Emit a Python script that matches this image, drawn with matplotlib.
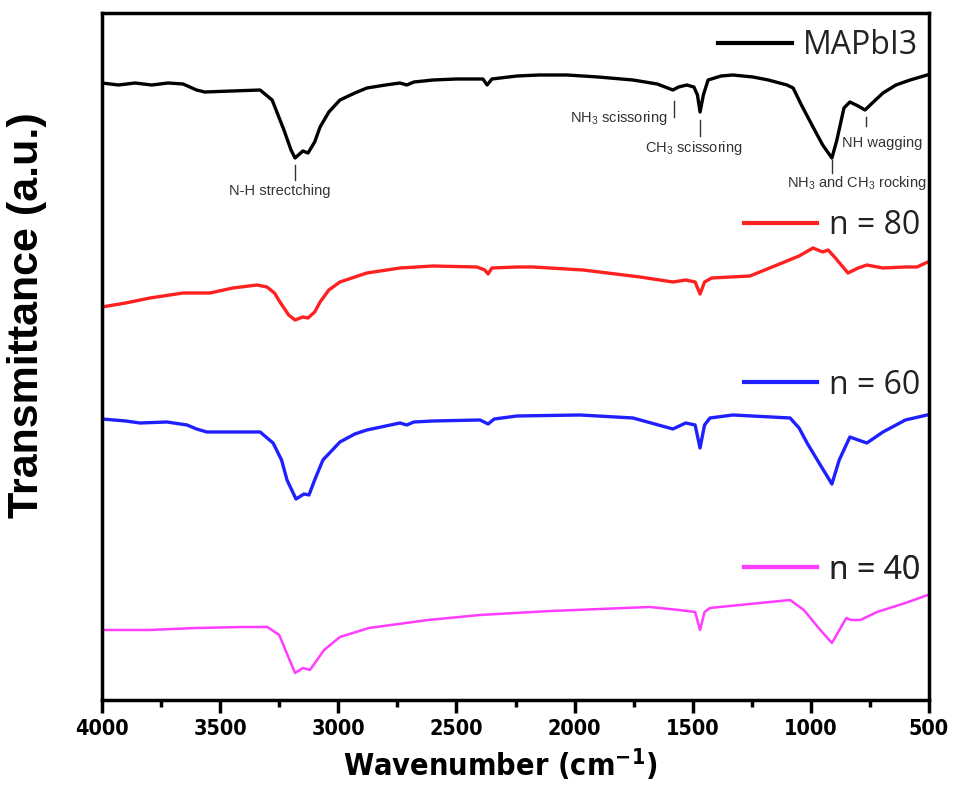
import matplotlib
matplotlib.use("Agg")
import matplotlib.pyplot as plt
from matplotlib.ticker import MultipleLocator, NullLocator

# Data (y in arbitrary transmittance units, offset per sample)

wn_mapbi3 = [4000, 3930, 3860, 3790, 3720, 3657, 3600, 3565, 3450, 3331, 3280, 3230, 3200, 3183,
             3150, 3128, 3100, 3077, 3040, 2993, 2930, 2879, 2800, 2739, 2710, 2680, 2599, 2500,
             2388, 2370, 2350, 2244, 2150, 2032, 1900, 1753, 1650, 1584, 1560, 1525, 1495, 1480,
             1469, 1455, 1435, 1380, 1330, 1245, 1180, 1101, 1075, 1040, 991, 950, 911, 890, 860,
             835, 800, 771, 740, 695, 640, 580, 508]
tr_mapbi3 = [617, 615, 617, 615, 617, 616, 610, 608, 609, 610, 600, 570, 550, 542,
             549, 547, 558, 573, 588, 600, 607, 612, 615, 617, 615, 618, 620, 621,
             621, 615, 621, 624, 625, 625, 623, 620, 616, 610, 613, 615, 613, 605,
             588, 605, 620, 624, 625, 623, 620, 615, 612, 595, 573, 555, 542, 560, 592,
             598, 594, 590, 597, 607, 615, 620, 625]

wn_n80 = [4000, 3900, 3797, 3657, 3543, 3446, 3344, 3302, 3270, 3247, 3210, 3183, 3150, 3128,
          3100, 3077, 3040, 2993, 2930, 2879, 2739, 2599, 2413, 2380, 2366, 2350, 2244, 2176,
          1964, 1723, 1584, 1530, 1490, 1469, 1450, 1420, 1258, 1143, 1050, 991, 950, 927, 900,
          843, 800, 763, 695, 600, 551, 505]
tr_n80 = [393, 397, 402, 407, 407, 412, 415, 413, 407, 398, 385, 380, 383, 382,
          388, 398, 410, 418, 423, 427, 432, 434, 433, 430, 426, 432, 433, 433,
          430, 423, 418, 420, 418, 406, 418, 422, 424, 435, 444, 452, 448, 450, 443,
          427, 432, 435, 432, 433, 433, 438]

wn_n60 = [4000, 3900, 3839, 3725, 3640, 3600, 3556, 3450, 3331, 3276, 3240, 3217, 3179, 3145,
          3124, 3100, 3065, 2993, 2930, 2879, 2739, 2710, 2680, 2599, 2400, 2366, 2340, 2244,
          1977, 1753, 1584, 1530, 1490, 1469, 1450, 1427, 1330, 1088, 1050, 1016, 960, 911, 880,
          835, 800, 763, 695, 600, 508]
tr_n60 = [281, 279, 277, 278, 275, 271, 268, 268, 268, 257, 240, 220, 201, 206,
          205, 220, 240, 258, 266, 270, 277, 275, 278, 279, 280, 276, 281, 284,
          285, 282, 271, 277, 275, 252, 275, 282, 285, 282, 272, 257, 235, 216, 240,
          263, 260, 257, 268, 280, 285]

wn_n40 = [4000, 3800, 3600, 3400, 3300, 3250, 3215, 3183, 3150, 3120, 3090, 3060, 2993, 2870,
          2620, 2400, 2100, 1681, 1560, 1490, 1469, 1450, 1427, 1258, 1088, 1030, 960, 911, 850,
          830, 790, 720, 600, 505]
tr_n40 = [70, 70, 72, 73, 73, 65, 45, 27, 32, 30, 40, 50, 63, 72,
          80, 85, 89, 93, 90, 88, 70, 88, 92, 96, 100, 90, 70, 57, 82,
          80, 80, 88, 97, 105]

SERIES = [
    ("MAPbI3", wn_mapbi3, tr_mapbi3, "#000000"),
    ("n = 80", wn_n80, tr_n80, "#ff2020"),
    ("n = 60", wn_n60, tr_n60, "#1f1fff"),
    ("n = 40", wn_n40, tr_n40, "#ff3cff"),
]

# where each legend sits (axes fraction, right edge / vertical centre)
LEGEND_POS = [(0.987, 0.953), (0.989, 0.691), (0.989, 0.4585), (0.989, 0.189)]

# peak labels on the MAPbI3 trace: (text, peak wn, tick y0, tick y1, text wn, text y, ha)
PEAKS = [
    ("N-H strectching", 3183, 520, 535, 3247, 509, "center"),
    ("NH$_3$ scissoring", 1579, 583, 599, 1605, 582, "right"),
    ("CH$_3$ scissoring", 1469, 564, 580, 1495, 552, "center"),
    ("NH$_3$ and CH$_3$ rocking", 911, 527, 540, 805, 517, "center"),
    ("NH wagging", 767, 574, 583, 868, 557, "left"),
]

NARROW = {"family": "DejaVu Sans", "stretch": "condensed", "weight": "bold"}

plt.rcParams.update({
    "mathtext.default": "regular",
    "axes.linewidth":   2.5,
})

fig = plt.figure(figsize=(9.55, 7.88), dpi=100)
ax = fig.add_axes([0.1068, 0.1117, 0.866, 0.8718])

for (label, wn, tr, color), (lx, ly) in zip(SERIES, LEGEND_POS):
    ax.plot(wn, tr, color=color, linewidth=2.4 if label != "n = 40" else 1.8,
            solid_joinstyle="round")
    handle, = ax.plot([], [], color=color, linewidth=3.0)
    leg = ax.legend([handle], [label], loc="center right", bbox_to_anchor=(lx, ly),
                    frameon=False, borderpad=0, borderaxespad=0, handlelength=2.3,
                    handletextpad=0.35, prop={"family": "Open Sans", "size": 23})
    leg.get_texts()[0].set_color("#222222")
    ax.add_artist(leg)

for text, wn, y0, y1, tx, ty, ha in PEAKS:
    ax.plot([wn, wn], [y0, y1], color="#333333", linewidth=1.0)
    ax.text(tx, ty, text, ha=ha, va="center", fontsize=10.5, color="#333333",
            family="Liberation Sans")

ax.set_xlim(4000, 500)
ax.set_ylim(0, 687)
ax.xaxis.set_major_locator(MultipleLocator(500))
ax.xaxis.set_minor_locator(MultipleLocator(250))
ax.yaxis.set_major_locator(NullLocator())
ax.tick_params(axis="x", which="major", direction="out", length=9, width=2.5, pad=5)
ax.tick_params(axis="x", which="minor", direction="out", length=5, width=2.5)

for lbl in ax.get_xticklabels():
    lbl.set_fontproperties(NARROW)
    lbl.set_fontsize(15.5)

ax.set_xlabel("Wavenumber (cm$^{-1}$)", fontsize=22, **NARROW)
ax.xaxis.set_label_coords(0.481, -0.068)
ax.set_ylabel("Transmittance (a.u.)", fontsize=31, fontweight="bold",
              family="Liberation Sans")
ax.yaxis.set_label_coords(-0.066, 0.56)

fig.savefig("out.png", dpi=100)
